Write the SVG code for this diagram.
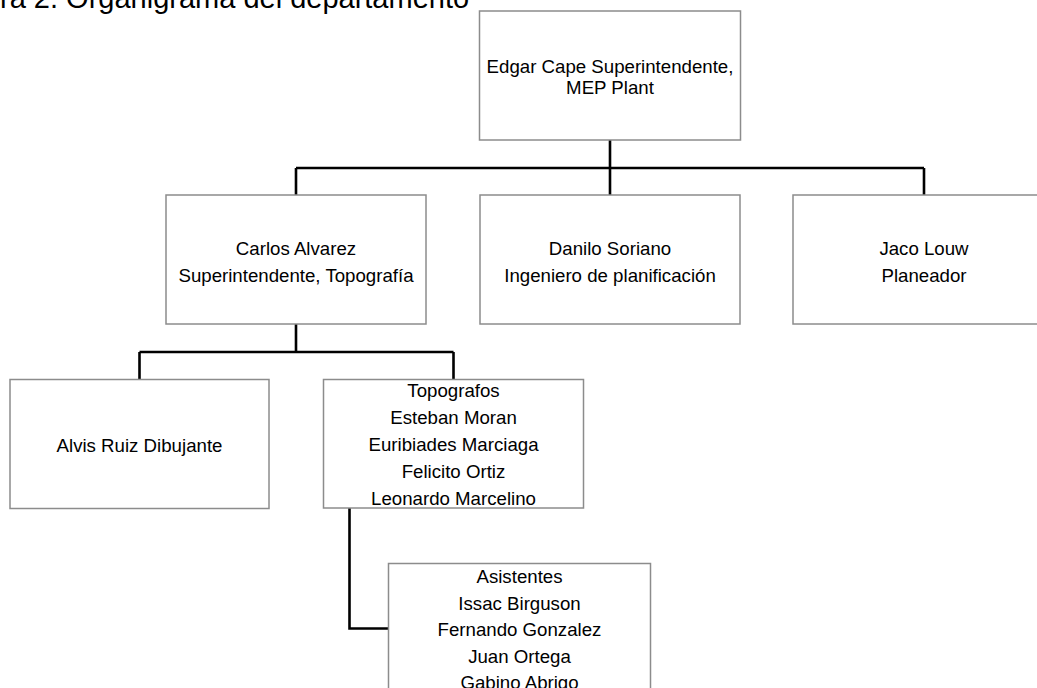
<svg xmlns="http://www.w3.org/2000/svg" width="1037" height="688" viewBox="0 0 1037 688">
<style>
.box{fill:#fff;stroke:#8c8c8c;stroke-width:1.5}
.t{font-family:"Liberation Sans",Arial,sans-serif;font-size:18.67px;fill:#000;text-anchor:middle}
.title{font-family:"Liberation Sans",Arial,sans-serif;font-size:29px;fill:#000}
.c{fill:none;stroke:#000;stroke-width:2.6}
</style>
<rect width="1037" height="688" fill="#fff"/>
<text class="title" x="0" y="7.5">ra 2. Organigrama del departamento</text>
<g id="connectors">
<path class="c" d="M610 140V168M296 168H924M296 168V195M610 168V195M924 168V195"/>
<path class="c" d="M296 324V352M139.5 352H453.5M139.5 352V379M453.5 352V379"/>
<path class="c" d="M349.5 508V628.5H388.5"/>
</g>
<g id="edgar">
<rect class="box" x="479.5" y="11" width="261" height="129"/>
<text class="t" x="610" y="73">Edgar Cape Superintendente,</text>
<text class="t" x="610" y="93.5">MEP Plant</text>
</g>
<g id="carlos">
<rect class="box" x="166" y="195" width="260" height="129"/>
<text class="t" x="296" y="255">Carlos Alvarez</text>
<text class="t" x="296" y="282">Superintendente, Topografía</text>
</g>
<g id="danilo">
<rect class="box" x="480" y="195" width="260" height="129"/>
<text class="t" x="610" y="255">Danilo Soriano</text>
<text class="t" x="610" y="282">Ingeniero de planificación</text>
</g>
<g id="jaco">
<rect class="box" x="793" y="195" width="262" height="129"/>
<text class="t" x="924" y="255">Jaco Louw</text>
<text class="t" x="924" y="282">Planeador</text>
</g>
<g id="alvis">
<rect class="box" x="10" y="379.5" width="259" height="129"/>
<text class="t" x="139.5" y="451.5">Alvis Ruiz Dibujante</text>
</g>
<g id="topografos">
<rect class="box" x="323.5" y="379.5" width="260" height="128.5"/>
<text class="t" x="453.5" y="397">Topografos</text>
<text class="t" x="453.5" y="424">Esteban Moran</text>
<text class="t" x="453.5" y="451">Euribiades Marciaga</text>
<text class="t" x="453.5" y="478">Felicito Ortiz</text>
<text class="t" x="453.5" y="505">Leonardo Marcelino</text>
</g>
<g id="asistentes">
<rect class="box" x="388.5" y="563.5" width="262" height="140"/>
<text class="t" x="519.5" y="583">Asistentes</text>
<text class="t" x="519.5" y="609.5">Issac Birguson</text>
<text class="t" x="519.5" y="636">Fernando Gonzalez</text>
<text class="t" x="519.5" y="662.5">Juan Ortega</text>
<text class="t" x="519.5" y="689">Gabino Abrigo</text>
</g>
</svg>
